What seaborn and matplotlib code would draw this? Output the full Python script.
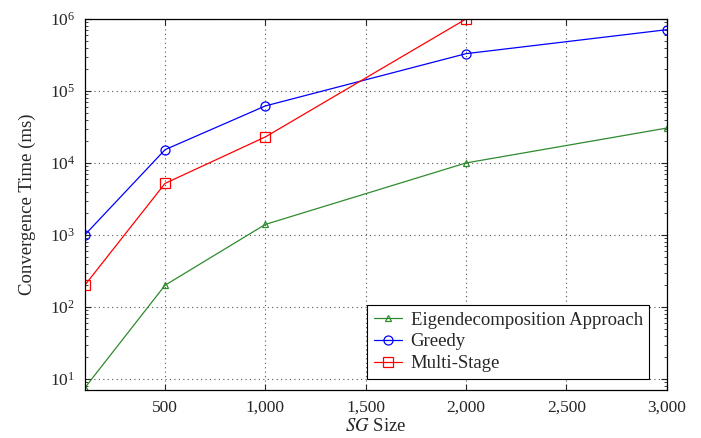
import pandas as pd
import matplotlib
matplotlib.use("Agg")
import matplotlib.pyplot as plt
import matplotlib.ticker as mticker
import seaborn as sns

# Valores
sg_size = [100, 500, 1000, 2000, 3000]
eigen = [7.5, 200, 1400, 10000, 30500]
greedy = [1000, 15300, 62000, 330000, 710000]
multi_x = [100, 500, 1000, 2000]
multi = [200, 5200, 23000, 1000000]

x_ticks = [500, 1000, 1500, 2000, 2500, 3000]

sns.set_style("ticks")
plt.rcParams['font.family'] = ['Liberation Serif', 'DejaVu Serif']
plt.rcParams['mathtext.fontset'] = 'stix'

fig = plt.figure(figsize=(7.01, 4.38), dpi=100)
ax = fig.add_axes([0.121, 0.1096, 0.830, 0.847])

series = [
    ("Eigendecomposition Approach", sg_size, eigen, "#2e8b2e", "^", 5),
    ("Greedy", sg_size, greedy, "#0000ff", "o", 6.5),
    ("Multi-Stage", multi_x, multi, "#ff0000", "s", 6.5),
]
for nome, xs, ys, cor, mk, ms in series:
    df = pd.DataFrame({"x": xs, "y": ys})
    sns.lineplot(data=df, x="x", y="y", ax=ax, color=cor, marker=mk,
                 markersize=ms, mfc="none", mec=cor, mew=0.9,
                 linewidth=0.9, label=nome)

ax.set_yscale("log")
ax.set_xlim(100, 3000)
ax.set_ylim(7.0, 1e6)
ax.set_xticks(x_ticks)
ax.xaxis.set_major_formatter(mticker.FuncFormatter(lambda v, p: f"{int(v):,}"))
ax.yaxis.set_major_locator(mticker.LogLocator(base=10, numticks=10))
ax.yaxis.set_minor_locator(mticker.LogLocator(base=10, subs=range(2, 10), numticks=20))
ax.yaxis.set_minor_formatter(mticker.NullFormatter())

ax.grid(True, which="major", linestyle=(0, (1, 3)), color="#555555", linewidth=0.8)
ax.tick_params(direction="in", top=True, right=True, labelsize=12.5, length=4, pad=7)
ax.tick_params(which="minor", direction="in", right=True, length=2.5)
for s in ax.spines.values():
    s.set_linewidth(0.9)
    s.set_color("black")

ax.set_xlabel("$SG$ Size", fontsize=13.5, labelpad=2)
ax.set_ylabel("Convergence Time (ms)", fontsize=13.5, labelpad=10)

leg = ax.legend(loc="lower right", fontsize=13.5, frameon=True, fancybox=False,
                edgecolor="black", framealpha=1, handlelength=1.5,
                handletextpad=0.45, borderpad=0.35, labelspacing=0.25,
                borderaxespad=0, bbox_to_anchor=(0.97, 0.03))
leg.get_frame().set_linewidth(0.8)

fig.savefig("out.png", dpi=100)
